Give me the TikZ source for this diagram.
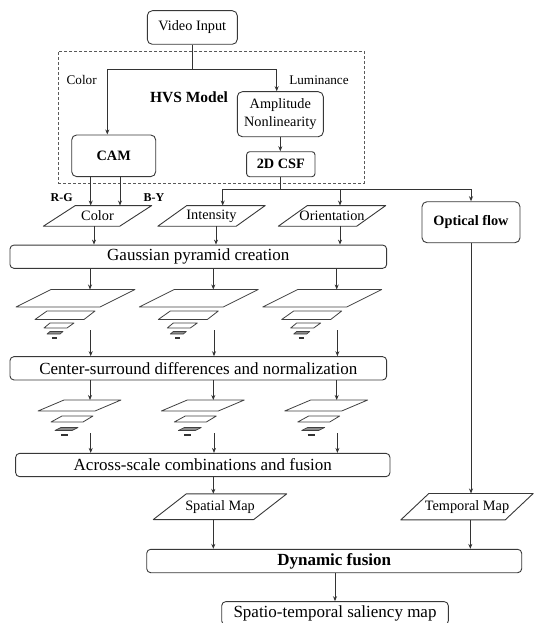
\documentclass[tikz,border=0pt]{standalone}
\usepackage{fontspec}
\setmainfont{Liberation Serif}
\usetikzlibrary{arrows.meta}

\newcommand{\fsBig}{\fontsize{17}{20}\selectfont}
\newcommand{\fsMid}{\fontsize{14.3}{18}\selectfont}
\newcommand{\fsLab}{\fontsize{13.2}{15}\selectfont}
\newcommand{\fsTiny}{\fontsize{12}{14}\selectfont}

% outline of a slanted data box drawn round a plain node
\newcommand{\slantframe}[2]{%
  \draw[frame] ([xshift=#2pt]#1.north west) -- ([xshift=#2pt]#1.north east)
    -- ([xshift=-#2pt]#1.south east) -- ([xshift=-#2pt]#1.south west) -- cycle;}

\tikzset{
  frame/.style={draw=black!78, line width=0.9pt, line join=round},
  line/.style={draw=black!80, line width=0.9pt},
  arr/.style={line, -{Stealth[length=5pt,width=4pt]}},
  rbox/.style={frame, rounded corners=5pt, inner sep=0pt, font=\fsMid, align=center},
  wbox/.style={frame, rounded corners=4pt, inner sep=0pt, font=\fsBig},
  para/.style={inner sep=0pt, font=\fsMid},
  hvsframe/.style={draw=black!65, line width=0.9pt, dash pattern=on 3pt off 2pt, inner sep=0pt},
  lab/.style={inner sep=0pt, font=\fsLab},
  chan/.style={inner sep=0pt, font=\fsTiny\bfseries},
  layer/.style={draw=black!75, line width=0.8pt, line join=round},
  layerfill/.style={draw=black!75, fill=black!45, line width=0.7pt, line join=round}
}

% one Gaussian pyramid (five levels), relative to its column
\newcommand{\bigpyramid}[1]{%
  \begin{scope}[xshift=#1pt]
    \draw[layer] (-39,289.5) -- (45,289.5) -- (10,307) -- (-74,307) -- cycle;
    \draw[layer] (-43,311) -- (5,311) -- (-6,319.5) -- (-55,319.5) -- cycle;
    \draw[layer] (-40,323) -- (-16,323) -- (-23,328) -- (-46,328) -- cycle;
    \draw[layerfill] (-40,331.5) -- (-27,331.5) -- (-30,334) -- (-43,334) -- cycle;
    \draw[black!80, line width=1.4pt] (-38,338) -- (-33,338);
  \end{scope}}

% one pyramid of feature maps (four levels), relative to its column
\newcommand{\smallpyramid}[1]{%
  \begin{scope}[xshift=#1pt]
    \draw[layer] (-26,400) -- (31,400) -- (5,411) -- (-52,411) -- cycle;
    \draw[layer] (-28,416) -- (3,416) -- (-7,422) -- (-39,422) -- cycle;
    \draw[layerfill] (-29,427.5) -- (-12,427.5) -- (-18,430.5) -- (-35,430.5) -- cycle;
    \draw[black!80, line width=1.4pt] (-29,435) -- (-22,435);
  \end{scope}}

\begin{document}
\begin{tikzpicture}[x=1pt, y=-1pt]
\useasboundingbox (0,0) rectangle (536,623);

% HVS model frame and its labels
\node[hvsframe, minimum width=305.7pt, minimum height=132.3pt] (hvs) at (211.15,117.15) {};
\node[inner sep=0pt, font=\fontsize{15.5}{18}\selectfont\bfseries] (hvslabel) at (189,97.7) {HVS Model};
\node[lab] (lcolor) at (81.7,80) {Color};
\node[lab] (llum) at (319,80) {Luminance};

% top part
\node[rbox, minimum width=90pt, minimum height=33.6pt] (video) at (192.3,27.5) {Video Input};
\node[rbox, minimum width=86pt, minimum height=45pt] (amp) at (280.3,114.2) {Amplitude\\Nonlinearity};
\node[rbox, minimum width=84pt, minimum height=41.7pt, font=\fsMid\bfseries] (cam) at (113.7,155.8) {CAM};
\node[rbox, rounded corners=3pt, minimum width=68.3pt, minimum height=25pt, font=\fsMid\bfseries] (csf) at (280.8,164.2) {2D CSF};

\node[chan] (rg) at (61.7,197.3) {R-G};
\node[chan] (by) at (154,197.3) {B-Y};

% feature channels
\node[para, minimum width=76pt, minimum height=20.3pt] (color) at (97.5,215.9) {Color};
\node[para, minimum width=78pt, minimum height=20.3pt] (intensity) at (211.5,215.9) {Intensity};
\node[para, minimum width=78pt, minimum height=20.3pt] (orientation) at (332,215.9) {Orientation};
\slantframe{color}{16}
\slantframe{intensity}{14.5}
\slantframe{orientation}{14.5}

\node[rbox, minimum width=98pt, minimum height=41pt, font=\fsMid\bfseries] (optical) at (471,222.2) {Optical flow};

% processing stages
\node[wbox, minimum width=376.7pt, minimum height=23.3pt] (gauss) at (198.3,256.7) {Gaussian pyramid creation};
\node[wbox, minimum width=376.7pt, minimum height=23.3pt] (center) at (198.3,368.3) {Center-surround differences and normalization};
\node[wbox, minimum width=374.3pt, minimum height=23.3pt] (across) at (202.8,465) {Across-scale combinations and fusion};

\node[para, minimum width=100pt, minimum height=25.3pt] (spatial) at (220,506.7) {Spatial Map};
\node[para, minimum width=104pt, minimum height=26pt] (temporal) at (467,506.7) {Temporal Map};
\slantframe{spatial}{16.5}
\slantframe{temporal}{14}

\node[wbox, minimum width=375pt, minimum height=23.4pt, font=\fsBig\bfseries] (dynamic) at (334.2,561) {Dynamic fusion};
\node[wbox, minimum width=226.6pt, minimum height=23.3pt] (saliency) at (335,613.3) {Spatio-temporal saliency map};

% pyramids in the three columns
\foreach \i/\cx in {1/90,2/213.3,3/336.7}{
  \bigpyramid{\cx}
  \smallpyramid{\cx}
  \coordinate (ptop\i) at (\cx,289.5);
  \coordinate (pbot\i) at (\cx+0.7,330);
  \coordinate (stop\i) at (\cx,400);
  \coordinate (sbot\i) at (\cx+0.7,433.3);
}

% connectors: HVS model
\coordinate (vsplit) at (192.3,69);
\draw[line] (video.south) -- (vsplit);
\draw[arr] (vsplit) -| ([xshift=-6.4pt]cam.north);
\draw[arr] (vsplit) -| ([xshift=-3.6pt]amp.north);
\draw[arr] (amp.south) -- (amp.south |- csf.north);

\draw[arr] ([xshift=-23pt]cam.south) -- ([xshift=-23pt]cam.south |- color.north);
\draw[arr] ([xshift=6.3pt]cam.south) -- ([xshift=6.3pt]cam.south |- color.north);

\coordinate (csfsplit) at (280.8,189);
\draw[line] (csf.south) -- (csfsplit);
\draw[arr] (csfsplit) -| ([xshift=11.2pt]intensity.north);
\draw[arr] (csfsplit) -| ([xshift=8pt]orientation.north);
\draw[arr] (csfsplit) -| (optical.north);

% connectors: spatial pathway
\draw[arr] ([xshift=-3.5pt]color.south) -- ([xshift=-3.5pt]color.south |- gauss.north);
\draw[arr] ([xshift=4.5pt]intensity.south) -- ([xshift=4.5pt]intensity.south |- gauss.north);
\draw[arr] ([xshift=8pt]orientation.south) -- ([xshift=8pt]orientation.south |- gauss.north);

\foreach \i in {1,2,3}{
  \draw[arr] (gauss.south -| ptop\i) -- (ptop\i);
  \draw[arr] (pbot\i) -- (pbot\i |- center.north);
  \draw[arr] (center.south -| stop\i) -- (stop\i);
  \draw[arr] (sbot\i) -- (sbot\i |- across.north);
}

\coordinate (spin) at ([xshift=-6.7pt]spatial.north);
\draw[arr] (across.south -| spin) -- (spin);
\draw[arr] ([xshift=-6.7pt]spatial.south) -- ([xshift=-6.7pt]spatial.south |- dynamic.north);

% connectors: temporal pathway and fusion
\draw[arr] (optical.south) -- (optical.south |- temporal.north);
\draw[arr] ([xshift=3.3pt]temporal.south) -- ([xshift=3.3pt]temporal.south |- dynamic.north);
\draw[arr] (dynamic.south -| saliency.north) -- (saliency.north);

\end{tikzpicture}
\end{document}
